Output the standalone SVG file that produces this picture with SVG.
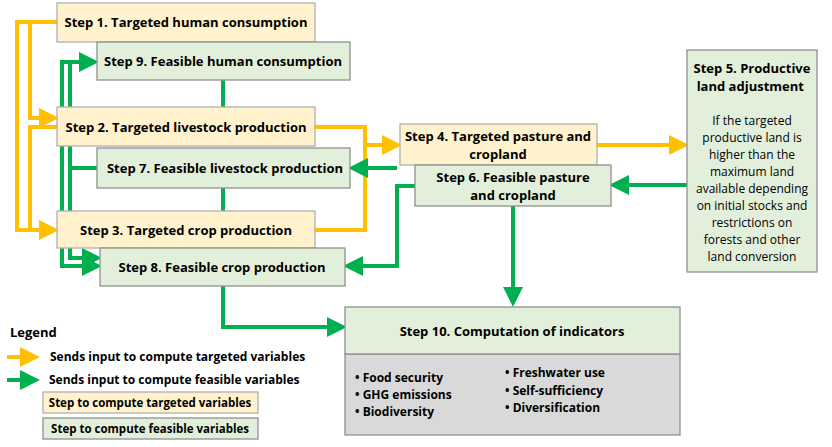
<svg xmlns="http://www.w3.org/2000/svg" width="832" height="447" viewBox="0 0 832 447">
<style>
text{font-family:"Open Sans","Liberation Sans",sans-serif;font-size:13px;fill:#000}
.b{font-weight:bold}
text.s12,tspan.s12{font-size:12px}
text.s11{font-size:11.5px}
.t{fill:#fff2cc;stroke:#b0b0b0;stroke-width:1.3}
.f{fill:#e2efda;stroke:#909090;stroke-width:1.3}
.y{fill:none;stroke:#ffc000;stroke-width:4}
.g{fill:none;stroke:#00b050;stroke-width:4}
</style>
<defs>
<marker id="ay" markerWidth="5" markerHeight="5" refX="4" refY="2.5" orient="auto" markerUnits="strokeWidth"><path d="M0,0L5,2.5L0,5z" fill="#ffc000"/></marker>
<marker id="ag" markerWidth="5" markerHeight="5" refX="4" refY="2.5" orient="auto" markerUnits="strokeWidth"><path d="M0,0L5,2.5L0,5z" fill="#00b050"/></marker>
</defs>
<g id="connectors">
<path class="y" d="M57,22H17V230H55" marker-end="url(#ay)"/>
<path class="y" d="M30,22V118H55" marker-end="url(#ay)"/>
<path class="y" d="M57,127H30V230"/>
<path class="y" d="M315,127H365V230H315"/>
<path class="y" d="M365,145H398" marker-end="url(#ay)"/>
<path class="y" d="M597,145H685" marker-end="url(#ay)"/>
<path class="g" d="M223,80V107M223,188V211M72,168H97"/>
<path class="g" d="M223,286V327H343" marker-end="url(#ag)"/>
<path class="g" d="M62,268V62H95" marker-end="url(#ag)"/>
<path class="g" d="M70,62V258H98" marker-end="url(#ag)"/>
<path class="g" d="M62,266H98" marker-end="url(#ag)"/>
<path class="g" d="M415,186H397V266H347" marker-end="url(#ag)"/>
<path class="g" d="M397,168H352" marker-end="url(#ag)"/>
<path class="g" d="M513,206V303" marker-end="url(#ag)"/>
<path class="g" d="M687,185H613" marker-end="url(#ag)"/>
</g>
<g id="step1"><rect class="t" x="57" y="3" width="258" height="39"/><text class="b" x="186" y="27" text-anchor="middle">Step 1. Targeted human consumption</text></g>
<g id="step9"><rect class="f" x="97" y="42" width="253" height="38"/><text class="b" x="223" y="66" text-anchor="middle">Step 9. Feasible human consumption</text></g>
<g id="step2"><rect class="t" x="57" y="107" width="258" height="39"/><text class="b" x="186" y="132" text-anchor="middle">Step 2. Targeted livestock production</text></g>
<g id="step7"><rect class="f" x="97" y="148" width="253" height="40"/><text class="b" x="225" y="173" text-anchor="middle">Step 7. Feasible livestock production</text></g>
<g id="step3"><rect class="t" x="57" y="211" width="258" height="37"/><text class="b" x="186" y="235" text-anchor="middle">Step 3. Targeted crop production</text></g>
<g id="step8"><rect class="f" x="100" y="248" width="245" height="38"/><text class="b" x="222" y="272" text-anchor="middle">Step 8. Feasible crop production</text></g>
<g id="step4"><rect class="t" x="400" y="124" width="197" height="41"/><text class="b" x="498" y="141" text-anchor="middle">Step 4. Targeted pasture and</text><text class="b" x="498" y="159" text-anchor="middle">cropland</text></g>
<g id="step6"><rect class="f" x="415" y="165" width="196" height="41"/><text class="b" x="513" y="182" text-anchor="middle">Step 6. Feasible pasture</text><text class="b" x="513" y="200" text-anchor="middle">and cropland</text></g>
<g id="step5"><rect class="f" x="687" y="50" width="130" height="222"/>
<text text-anchor="middle" x="752"><tspan class="b" x="752" y="73">Step 5. Productive</tspan><tspan class="b" x="752" y="91">land adjustment</tspan>
<tspan class="s12" x="752" y="125">If the targeted</tspan><tspan class="s12" x="752" y="142">productive land is</tspan><tspan class="s12" x="752" y="159">higher than the</tspan><tspan class="s12" x="752" y="176">maximum land</tspan><tspan class="s12" x="752" y="193">available depending</tspan><tspan class="s12" x="752" y="210">on initial stocks and</tspan><tspan class="s12" x="752" y="227">restrictions on</tspan><tspan class="s12" x="752" y="244">forests and other</tspan><tspan class="s12" x="752" y="261">land conversion</tspan></text></g>
<g id="step10"><rect x="345" y="354" width="335" height="81" fill="#d9d9d9" stroke="#909090" stroke-width="1.3"/><rect class="f" x="345" y="307" width="335" height="47"/>
<text class="b" x="512" y="336" text-anchor="middle">Step 10. Computation of indicators</text>
<text class="b s12" x="355" y="382">•  Food security</text><text class="b s12" x="355" y="399">•  GHG emissions</text><text class="b s12" x="355" y="416">•  Biodiversity</text>
<text class="b s12" x="505" y="377">•  Freshwater use</text><text class="b s12" x="505" y="395">•  Self-sufficiency</text><text class="b s12" x="505" y="412">•  Diversification</text></g>
<g id="legend"><text class="b" x="10" y="337">Legend</text>
<path class="y" d="M7,357H36" marker-end="url(#ay)"/><text class="b s12" x="50" y="361">Sends input to compute targeted variables</text>
<path class="g" d="M7,380H36" marker-end="url(#ag)"/><text class="b s12" x="49" y="384">Sends input to compute feasible variables</text>
<rect class="t" x="43" y="392" width="215" height="21"/><text class="b s11" x="150" y="407" text-anchor="middle">Step to compute targeted variables</text>
<rect class="f" x="43" y="418" width="215" height="21"/><text class="b s11" x="150" y="433" text-anchor="middle">Step to compute feasible variables</text></g>
</svg>
